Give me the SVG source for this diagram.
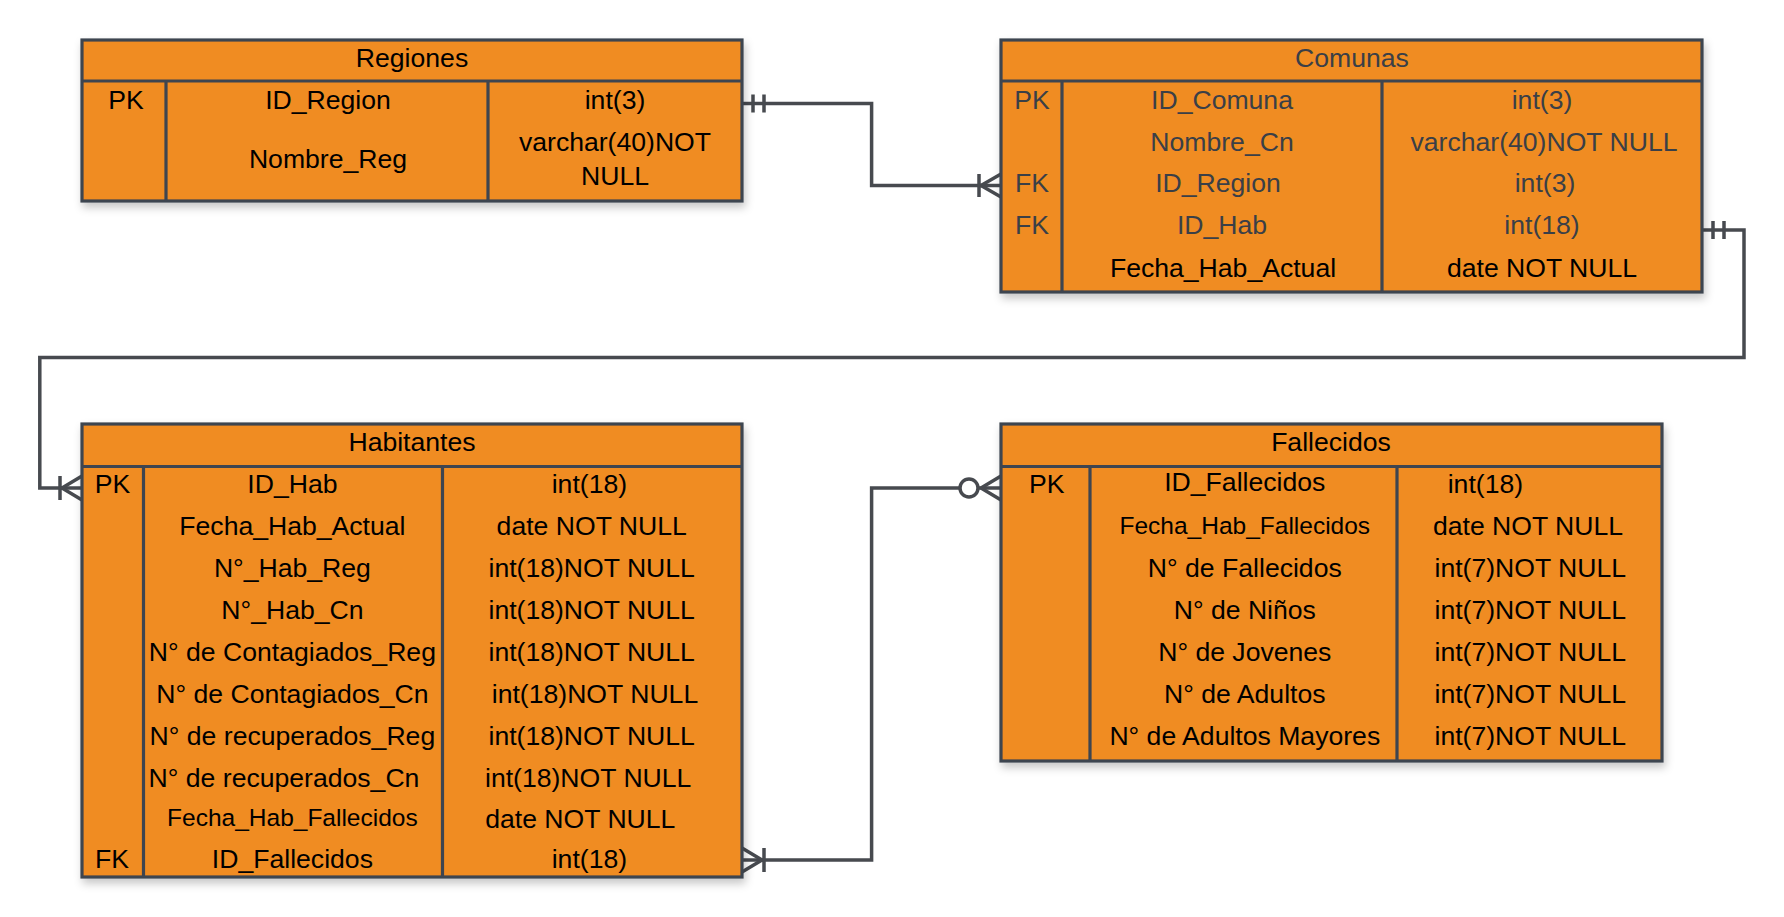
<svg xmlns="http://www.w3.org/2000/svg" width="1784" height="917" viewBox="0 0 1784 917">
<style>
.box{fill:#F08C23;stroke:#3E4550;stroke-width:3.2}
.ln{fill:none;stroke:#3E4550;stroke-width:3.2}
.t{font-family:"Liberation Sans",Arial,sans-serif;font-size:26.6px;text-anchor:middle;dominant-baseline:central;fill:#000}
.g{fill:#3A3F47}
.s{font-size:24.5px}
.conn{fill:none;stroke:#474A4F;stroke-width:3.5}
.mk{fill:none;stroke:#474A4F;stroke-width:3.5}
</style>
<defs>
<filter id="sh" x="-5%" y="-5%" width="110%" height="120%">
<feDropShadow dx="2" dy="5" stdDeviation="4" flood-color="#000" flood-opacity="0.22"/>
</filter>
</defs>
<rect width="1784" height="917" fill="#fff"/>

<g id="connectors">
<path class="conn" d="M742 103.5 H871.6 V185.5 H1001"/>
<path class="mk" d="M753 94.5 V112.5 M764 94.5 V112.5"/>
<path class="mk" d="M979 174 V197 M981 185.5 L1001 174 M981 185.5 L1001 197"/>

<path class="conn" d="M1702 230 H1744 V357.5 H39.8 V488 H82"/>
<path class="mk" d="M1713 221 V239 M1724 221 V239"/>
<path class="mk" d="M60 476 V500 M62 488 L82 476 M62 488 L82 500"/>

<path class="conn" d="M742 860 H871.6 V488 H1001"/>
<path class="mk" d="M764 848 V872 M762 860 L742 848 M762 860 L742 872"/>
<circle cx="969" cy="488" r="9" fill="#fff" stroke="#474A4F" stroke-width="3.5"/>
<path class="mk" d="M981 488 L1001 476 M981 488 L1001 500"/>
</g>

<g id="regiones">
<rect class="box" x="82" y="40" width="660" height="161" filter="url(#sh)"/>
<path class="ln" d="M82 81 H742 M166 81 V201 M488 81 V201"/>
<text class="t" x="412" y="58">Regiones</text>
<text class="t" x="126" y="100">PK</text>
<text class="t" x="328" y="100">ID_Region</text>
<text class="t" x="615" y="100">int(3)</text>
<text class="t" x="328" y="159">Nombre_Reg</text>
<text class="t" x="615" y="142">varchar(40)NOT</text>
<text class="t" x="615" y="176">NULL</text>
</g>

<g id="comunas">
<rect class="box" x="1001" y="40" width="701" height="252" filter="url(#sh)"/>
<path class="ln" d="M1001 81 H1702 M1062 81 V292 M1382 81 V292"/>
<text class="t g" x="1352" y="58">Comunas</text>
<text class="t g" x="1032" y="100">PK</text>
<text class="t g" x="1222" y="100">ID_Comuna</text>
<text class="t g" x="1542" y="100">int(3)</text>
<text class="t g" x="1222" y="142">Nombre_Cn</text>
<text class="t g" x="1544" y="142">varchar(40)NOT NULL</text>
<text class="t g" x="1032" y="183">FK</text>
<text class="t g" x="1218" y="183">ID_Region</text>
<text class="t g" x="1545" y="183">int(3)</text>
<text class="t g" x="1032" y="225">FK</text>
<text class="t g" x="1222" y="225">ID_Hab</text>
<text class="t g" x="1542" y="225">int(18)</text>
<text class="t" x="1223" y="268">Fecha_Hab_Actual</text>
<text class="t" x="1542" y="268">date NOT NULL</text>
</g>

<g id="habitantes">
<rect class="box" x="82" y="424" width="660" height="453" filter="url(#sh)"/>
<path class="ln" d="M82 466.5 H742 M143.5 466.5 V877 M442.5 466.5 V877"/>
<text class="t" x="412" y="441.5">Habitantes</text>
<text class="t" x="112.5" y="483.6">PK</text>
<text class="t" x="292.4" y="483.6">ID_Hab</text>
<text class="t" x="589.4" y="483.6">int(18)</text>
<text class="t" x="292.4" y="525.7">Fecha_Hab_Actual</text>
<text class="t" x="591.7" y="525.7">date NOT NULL</text>
<text class="t" x="292.4" y="567.8">N°_Hab_Reg</text>
<text class="t" x="591.7" y="567.8">int(18)NOT NULL</text>
<text class="t" x="292.4" y="609.9">N°_Hab_Cn</text>
<text class="t" x="591.7" y="609.9">int(18)NOT NULL</text>
<text class="t" x="292.4" y="652">N° de Contagiados_Reg</text>
<text class="t" x="591.7" y="652">int(18)NOT NULL</text>
<text class="t" x="292.4" y="694">N° de Contagiados_Cn</text>
<text class="t" x="595" y="694">int(18)NOT NULL</text>
<text class="t" x="292.4" y="736.2">N° de recuperados_Reg</text>
<text class="t" x="591.7" y="736.2">int(18)NOT NULL</text>
<text class="t" x="284" y="778.3">N° de recuperados_Cn</text>
<text class="t" x="588.2" y="778.3">int(18)NOT NULL</text>
<text class="t s" x="292.4" y="817">Fecha_Hab_Fallecidos</text>
<text class="t" x="580.3" y="819">date NOT NULL</text>
<text class="t" x="112" y="859">FK</text>
<text class="t" x="292.4" y="859">ID_Fallecidos</text>
<text class="t" x="589.4" y="859">int(18)</text>
</g>

<g id="fallecidos">
<rect class="box" x="1001" y="424" width="661" height="337" filter="url(#sh)"/>
<path class="ln" d="M1001 466.5 H1662 M1090 466.5 V761 M1397 466.5 V761"/>
<text class="t" x="1331" y="441.5">Fallecidos</text>
<text class="t" x="1046.8" y="483.6">PK</text>
<text class="t" x="1244.8" y="481.6">ID_Fallecidos</text>
<text class="t" x="1485.4" y="483.6">int(18)</text>
<text class="t s" x="1244.8" y="525.7">Fecha_Hab_Fallecidos</text>
<text class="t" x="1528" y="525.7">date NOT NULL</text>
<text class="t" x="1244.8" y="567.8">N° de Fallecidos</text>
<text class="t" x="1530.3" y="567.8">int(7)NOT NULL</text>
<text class="t" x="1244.8" y="609.9">N° de Niños</text>
<text class="t" x="1530.3" y="609.9">int(7)NOT NULL</text>
<text class="t" x="1244.8" y="652">N° de Jovenes</text>
<text class="t" x="1530.3" y="652">int(7)NOT NULL</text>
<text class="t" x="1244.8" y="694">N° de Adultos</text>
<text class="t" x="1530.3" y="694">int(7)NOT NULL</text>
<text class="t" x="1244.8" y="736.2">N° de Adultos Mayores</text>
<text class="t" x="1530.3" y="736.2">int(7)NOT NULL</text>
</g>
</svg>
